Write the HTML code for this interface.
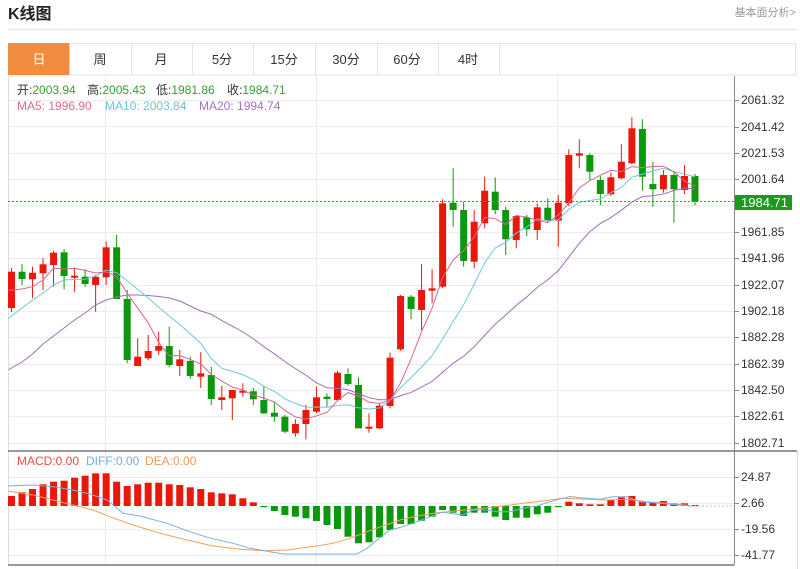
<!DOCTYPE html>
<html><head><meta charset="utf-8">
<style>
html,body{margin:0;padding:0;background:#fff;width:800px;height:569px;overflow:hidden;font-family:"Liberation Sans","Noto Sans CJK SC",sans-serif;}
svg{position:absolute;left:0;top:0;}
</style></head><body>
<svg id="s" width="800" height="569" xmlns="http://www.w3.org/2000/svg" font-family="Liberation Sans, Noto Sans CJK SC, sans-serif">
<!-- header -->
<text x="8" y="19" font-size="16" font-weight="bold" fill="#222">K线图</text>
<text x="796" y="16" font-size="11" fill="#999" text-anchor="end">基本面分析&gt;</text>
<line x1="8" y1="29.5" x2="797" y2="29.5" stroke="#e6e6e6" stroke-width="1.5"/>
<!-- tabs -->
<rect x="8.5" y="43.5" width="787" height="31.5" fill="none" stroke="#e3e3e3"/>
<rect x="8" y="43" width="61.5" height="32" fill="#f28d3f" rx="1"/>
<g stroke="#e3e3e3">
<line x1="131.5" y1="43" x2="131.5" y2="75"/><line x1="192.5" y1="43" x2="192.5" y2="75"/>
<line x1="253.5" y1="43" x2="253.5" y2="75"/><line x1="315.5" y1="43" x2="315.5" y2="75"/>
<line x1="377.5" y1="43" x2="377.5" y2="75"/><line x1="438.5" y1="43" x2="438.5" y2="75"/>
<line x1="499.5" y1="43" x2="499.5" y2="75"/>
</g>
<g font-size="13" text-anchor="middle" fill="#333">
<text x="39" y="64" fill="#fff">日</text>
<text x="100" y="64">周</text>
<text x="161" y="64">月</text>
<text x="222" y="64">5分</text>
<text x="284" y="64">15分</text>
<text x="346" y="64">30分</text>
<text x="407" y="64">60分</text>
<text x="468" y="64">4时</text>
</g>
<!-- grid -->
<g id="grid" stroke="#ebebeb" stroke-width="1"></g>
<line x1="8.5" y1="75" x2="8.5" y2="565" stroke="#dcdcdc"/>
<!-- info -->
<g font-size="12">
<text x="17" y="94"><tspan fill="#333">开:</tspan><tspan fill="#3a9d3a">2003.94</tspan></text>
<text x="87" y="94"><tspan fill="#333">高:</tspan><tspan fill="#3a9d3a">2005.43</tspan></text>
<text x="156" y="94"><tspan fill="#333">低:</tspan><tspan fill="#3a9d3a">1981.86</tspan></text>
<text x="227" y="94"><tspan fill="#333">收:</tspan><tspan fill="#3a9d3a">1984.71</tspan></text>
<text x="17" y="110" fill="#e06a92">MA5: 1996.90</text>
<text x="105" y="110" fill="#6cc3dc">MA10: 2003.84</text>
<text x="199" y="110" fill="#a673c0">MA20: 1994.74</text>
<text x="17" y="465" fill="#e05048">MACD:0.00</text>
<text x="86" y="465" fill="#72aee0">DIFF:0.00</text>
<text x="145" y="465" fill="#e89a5a">DEA:0.00</text>
</g>
<g id="plot"></g>
<!-- last price dotted -->
<line x1="8" y1="201.5" x2="734" y2="201.5" stroke="#3a9d3a" stroke-dasharray="2,2" stroke-width="1"/>
<!-- axes -->
<line x1="734.5" y1="76" x2="734.5" y2="565" stroke="#8a8a8a"/>
<line x1="8" y1="451" x2="797" y2="451" stroke="#777" stroke-width="1.5"/>
<line x1="8" y1="565" x2="734" y2="565" stroke="#777" stroke-width="1.5"/>
<line x1="797.5" y1="451" x2="797.5" y2="569" stroke="#ddd"/>
<g font-size="12" fill="#333">
<text x="741" y="104">2061.32</text>
<text x="741" y="131">2041.42</text>
<text x="741" y="157">2021.53</text>
<text x="741" y="183">2001.64</text>
<text x="741" y="236">1961.85</text>
<text x="741" y="262">1941.96</text>
<text x="741" y="289">1922.07</text>
<text x="741" y="315">1902.18</text>
<text x="741" y="341">1882.28</text>
<text x="741" y="368">1862.39</text>
<text x="741" y="394">1842.50</text>
<text x="741" y="420">1822.61</text>
<text x="741" y="447">1802.71</text>
<text x="741" y="481">24.87</text>
<text x="741" y="507">2.66</text>
<text x="741" y="533">-19.56</text>
<text x="741" y="559">-41.77</text>
</g>
<g id="ticks" stroke="#888"></g>
<rect x="735" y="195" width="57" height="15" fill="#1a9c1a"/>
<text x="741" y="207" font-size="13" fill="#fff">1984.71</text>
</svg>
<script>
(function(){
var NS="http://www.w3.org/2000/svg";
var grid=document.getElementById('grid'),plot=document.getElementById('plot'),ticks=document.getElementById('ticks');
var g='';
for(var k=0;k<14;k++){var y=Math.round(100+26.36*k)+0.5;g+='<line x1="8" y1="'+y+'" x2="734" y2="'+y+'"/>';}
[477.5,503.5,529.5,555.5].forEach(function(y){g+='<line x1="8" y1="'+y+'" x2="734" y2="'+y+'"/>';});
[105.5,316.5,557.5].forEach(function(x){g+='<line x1="'+x+'" y1="76" x2="'+x+'" y2="565"/>';});
grid.innerHTML=g;
var t='';
[100,127,153,179,205,232,258,285,311,337,364,390,416,443,477,503,529,555].forEach(function(y){t+='<line x1="734" y1="'+(y+0.5)+'" x2="739" y2="'+(y+0.5)+'"/>';});
ticks.innerHTML=t;
var C=[
[1,271.7,308,268,312],[0,271.7,279,264,285],[1,272.7,279.3,266.7,298],[1,264.3,273.3,258,290],[1,252.7,265,250.7,286.7],
[0,252.3,276,249,289.3],[1,275.7,277.7,267.7,291.7],[0,276.7,284,269,286.7],[1,276.7,285,275,311.7],[1,247.3,277.3,241.7,285],
[0,247.3,299,235,299],[0,299,360,290,363.3],[1,356.7,366,338.3,366],[1,351,358.3,335,360],[1,346,350.7,331.7,355],
[0,346,365,326.7,367.3],[1,359.3,366,350,376],[0,361,376,356.7,379],[1,373.3,376.7,352,388],[0,375,399,366.7,405],
[1,397.3,400,385.7,410],[1,390,398.3,390,420],[1,390.7,392.7,383.3,396.7],[0,391.3,399.3,388,405],[0,400,413.3,386,414],
[0,412.7,416.7,402.7,421.7],[0,416.7,431.7,415,433.3],[1,424,433.3,419.3,436.7],[1,410,424,405,439.3],[1,397.3,411.7,386.7,413.3],
[0,396.7,399,393.3,406.7],[1,372.7,400,370.7,400.7],[0,374,384,368.3,385.7],[0,385,428.3,377.3,428.3],[1,426.7,428.7,413.3,432.7],
[1,405.7,428.3,403.3,429.3],[1,357.7,406,352.7,408.3],[1,296,349.3,295,350.7],[0,296.7,309,295,319.3],[1,290,310,264,330],
[1,288.3,290.7,269.3,303.3],[1,203.3,286.7,199.3,288.3],[0,202.7,210,168.3,226.7],[0,210,261,201.7,266.7],[1,221.7,261.7,210,268.3],
[1,190.7,223.3,176.7,228.3],[0,191.7,210,177.3,214],[0,210,239.3,206.7,255],[1,216,240,215,248.3],[0,217.3,229.3,215,236],
[1,207.3,230,203.3,240],[0,207.7,220.7,198.3,222.7],[1,202.7,220.7,195,246.7],[1,155,203.3,149.3,206],[1,153.3,155.7,139.3,168.3],
[0,155,171.7,153.3,180],[0,180,194,176,205],[1,177.3,194.3,172.7,196],[1,161.7,178.3,144.3,179.3],[1,128.3,163.3,117.3,164],
[0,129,176.7,119.3,190.7],[0,184,189.3,161.7,206.7],[1,175,189.3,170,192.7],[0,175,189.3,171.7,222.7],[1,176,190,165,194],
[0,176,201.5,174,205.3]];
function X(i){return 11.5+i*10.515;}
var RED='#e8180c',GRN='#0c980c';
var s='';
C.forEach(function(c,i){var x=X(i).toFixed(2);var col=c[0]?RED:GRN;
s+='<line x1="'+x+'" x2="'+x+'" y1="'+c[3]+'" y2="'+c[4]+'" stroke="'+col+'" stroke-width="1"/>';
var h=Math.max(1.5,c[2]-c[1]);
s+='<rect x="'+(X(i)-3.5).toFixed(2)+'" y="'+c[1]+'" width="7" height="'+h.toFixed(2)+'" fill="'+col+'"/>';
});
var cl=C.map(function(c){return c[0]?c[1]:c[2];});
function maLine(n,pre,col){
  var pts=[];
  for(var i=0;i<C.length;i++){
    var y;
    if(i<n-1){y=pre[i];}else{var sum=0;for(var j=i-n+1;j<=i;j++)sum+=cl[j];y=sum/n;}
    pts.push(X(i).toFixed(2)+','+y.toFixed(2));
  }
  var y0=pre[0]+(pre[0]-pre[1])*0.33;
  pts.unshift('8.5,'+y0.toFixed(2));
  return '<polyline points="'+pts.join(' ')+'" fill="none" stroke="'+col+'" stroke-width="1"/>';
}
s+=maLine(20,[368,362,354,344,336,328,320,313,305,300,297,295,295,295.5,296.5,298,301,306,311],'#a56cbb');
s+=maLine(10,[316,308,300,293,285,280,279.5,279.3,276],'#72c7de');
s+=maLine(5,[290,289,286.7,280],'#d6668f');
// MACD
var Z=506;
var M=[496,492.3,489,484.3,481.7,480.7,477.7,475.7,473.3,473.3,481.7,486,484.3,482.7,482.7,484.3,485,487.3,489,492.3,
493.3,494.3,498.3,502.3,507,511,515,516.7,518.3,521,525,529,536.7,543.3,542.3,537.3,530,524,524,520.7,
516.7,510,512.7,516,512.7,512.7,516.7,520,517.7,517.7,514.3,512.7,507,501.7,503.3,504.3,504.3,500,497.3,496,
501.7,502.3,501,503.3,503.3,505];
M.forEach(function(v,i){var col=v<Z?RED:GRN;var y=Math.min(v,Z),h=Math.max(1.2,Math.abs(v-Z));
s+='<rect x="'+(X(i)-3.5).toFixed(2)+'" y="'+y+'" width="7" height="'+h.toFixed(2)+'" fill="'+col+'"/>';});
var DIFF=[[8,486],[33,485],[53,486.7],[73,490],[90,494],[107,500],[123,513.3],[140,516],[167,523.3],[187,530.7],[207,537.3],[233,543.3],[250,548.3],[270,551.7],[283,554],[317,554],[357,554],[367,548.3],[377,540],[390,530],[403,526.7],[417,521.7],[430,516.7],[442,512.3],[450,513.3],[463,515],[473,510],[487,510],[497,511.7],[510,511.7],[523,508.3],[537,506],[550,501.7],[563,498.3],[570,496.5],[580,497.7],[600,499.3],[613,496.7],[627,496.7],[640,501.7],[660,503.3],[690,506]];
var DEA=[[8,491],[33,495],[53,500],[73,505],[93,510],[110,516.7],[133,525],[160,533.3],[187,540],[213,546],[240,549.3],[263,550.7],[287,550],[300,548.3],[317,546],[333,543.3],[350,538.3],[367,531.7],[383,526],[400,520],[417,516],[437,512.7],[457,510.7],[483,508.3],[503,506],[523,503.3],[543,501],[563,498.3],[587,499.3],[607,500],[627,499.3],[647,501.7],[667,503.3],[690,505.5]];
function pl(a,col){return '<polyline points="'+a.map(function(p){return p[0]+','+p[1];}).join(' ')+'" fill="none" stroke="'+col+'" stroke-width="1"/>';}
s+=pl(DEA,'#f0a060');
s+=pl(DIFF,'#78aee0');
s+='<line x1="690" y1="506" x2="734" y2="506" stroke="#9cc8e0" stroke-dasharray="2,2"/>';
plot.innerHTML=s;
})();
</script>
</body></html>
